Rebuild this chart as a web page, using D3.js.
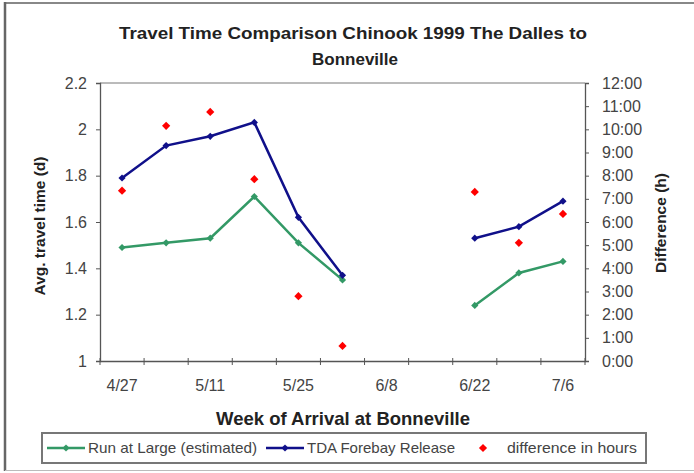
<!DOCTYPE html>
<html>
<head>
<meta charset="utf-8">
<script src="https://d3js.org/d3.v7.min.js"></script>
<style>body{margin:0;background:#fff}</style>
</head>
<body>
<svg width="694" height="473" font-family="Liberation Sans, Arial, sans-serif"></svg>
<script>

// weekly categories (arrival week at Bonneville)
var weeks = ["4/27", "5/4", "5/11", "5/18", "5/25", "6/1", "6/8", "6/15", "6/22", "6/29", "7/6"];

// avg travel time (days)
var runAtLarge = [1.49, 1.51, 1.53, 1.71, 1.51, 1.35, null, null, 1.24, 1.38, 1.43];
var tdaForebay = [1.79, 1.93, 1.97, 2.03, 1.62, 1.37, null, null, 1.53, 1.58, 1.69];

// difference in hours
var diffHours = [7.35, 10.15, 10.75, 7.85, 2.8, 0.65, null, null, 7.3, 5.1, 6.35];

var leftTicks = [1, 1.2, 1.4, 1.6, 1.8, 2, 2.2];
var rightTicks = [0, 1, 2, 3, 4, 5, 6, 7, 8, 9, 10, 11, 12];

var svg = d3.select("svg");

var green = "#339966", blue = "#10108a", red = "#ff0000";

// frame
svg.append("line").attr("x1", 5).attr("x2", 694).attr("y1", 3).attr("y2", 3)
    .attr("stroke", "#888").attr("stroke-width", 2);
svg.append("line").attr("x1", 5).attr("x2", 5).attr("y1", 2).attr("y2", 471)
    .attr("stroke", "#666").attr("stroke-width", 2.5);
svg.append("line").attr("x1", 5).attr("x2", 694).attr("y1", 470.5).attr("y2", 470.5)
    .attr("stroke", "#bbb").attr("stroke-width", 1);

var x = d3.scaleBand().domain(weeks).range([100, 585]);
var y = d3.scaleLinear().domain([1, 2.2]).range([361, 83]);
var y2 = d3.scaleLinear().domain([0, 12]).range([361, 83]);

function cx(i) { return x(weeks[i]) + x.bandwidth() / 2; }

// title
var title = svg.append("text")
    .attr("text-anchor", "middle")
    .attr("font-weight", "bold")
    .attr("font-size", 17)
    .attr("fill", "#222");
title.append("tspan").attr("x", 353).attr("y", 39)
    .attr("textLength", 468).attr("lengthAdjust", "spacingAndGlyphs")
    .text("Travel Time Comparison Chinook 1999 The Dalles to");
title.append("tspan").attr("x", 355).attr("y", 65).text("Bonneville");

// plot top border
svg.append("line").attr("x1", 100).attr("x2", 585).attr("y1", y(2.2)).attr("y2", y(2.2))
    .attr("stroke", "#777");

// axes
var gl = svg.append("g").attr("transform", "translate(100,0)")
    .call(d3.axisLeft(y).tickValues(leftTicks).tickSize(4).tickPadding(9)
      .tickFormat(function(d) { return String(+d.toFixed(1)); }));

var gr = svg.append("g").attr("transform", "translate(585,0)")
    .call(d3.axisRight(y2).tickValues(rightTicks).tickSize(4).tickPadding(13)
      .tickFormat(function(d) { return d + ":00"; }));

var gb = svg.append("g").attr("transform", "translate(0,361)")
    .call(d3.axisBottom(x).tickSize(0).tickPadding(19)
      .tickFormat(function(d, i) { return i % 2 == 0 ? d : ""; }));

// tick marks on category boundaries
var bounds = weeks.map(function(w) { return x(w); }).concat([x.range()[1]]);
gb.selectAll(".bound").data(bounds).enter().append("line")
    .attr("x1", function(d) { return d; }).attr("x2", function(d) { return d; })
    .attr("y1", -3).attr("y2", 4)
    .attr("stroke", "#555");

[gl, gr, gb].forEach(function(g) {
  g.select(".domain").attr("stroke", "#555").attr("stroke-width", 1.3);
  g.selectAll(".tick line").attr("stroke", "#555");
  g.selectAll("text").attr("font-size", 16).attr("fill", "#444")
      .attr("font-family", "Liberation Sans, Arial, sans-serif");
});

// axis titles
svg.append("text")
    .attr("transform", "translate(45,226) rotate(-90)")
    .attr("text-anchor", "middle").attr("font-weight", "bold").attr("font-size", 15.5).attr("fill", "#222")
    .text("Avg. travel time (d)");

svg.append("text")
    .attr("transform", "translate(666,223) rotate(-90)")
    .attr("text-anchor", "middle").attr("font-weight", "bold").attr("font-size", 15.5).attr("fill", "#222")
    .text("Difference (h)");

svg.append("text")
    .attr("x", 343).attr("y", 425)
    .attr("text-anchor", "middle").attr("font-weight", "bold").attr("font-size", 18.5).attr("fill", "#222")
    .text("Week of Arrival at Bonneville");

// series
var line = d3.line()
    .defined(function(d) { return d != null; })
    .x(function(d, i) { return cx(i); })
    .y(function(d) { return y(d); });

var diamond = d3.symbol().type(d3.symbolSquare);

function drawSeries(vals, color) {
  svg.append("path").datum(vals)
      .attr("d", line)
      .attr("fill", "none").attr("stroke", color).attr("stroke-width", 2.5);
  svg.selectAll(null).data(vals.map(function(v, i) { return {v: v, i: i}; })
      .filter(function(d) { return d.v != null; }))
    .enter().append("path")
      .attr("d", diamond.size(26))
      .attr("transform", function(d) { return "translate(" + cx(d.i) + "," + y(d.v) + ") rotate(45)"; })
      .attr("fill", color);
}

drawSeries(runAtLarge, green);
drawSeries(tdaForebay, blue);

svg.selectAll(null).data(diffHours.map(function(v, i) { return {v: v, i: i}; })
    .filter(function(d) { return d.v != null; }))
  .enter().append("path")
    .attr("d", d3.symbol().type(d3.symbolSquare).size(34))
    .attr("transform", function(d) { return "translate(" + cx(d.i) + "," + y2(d.v) + ") rotate(45)"; })
    .attr("fill", red);

// legend
var lg = svg.append("g");
lg.append("rect").attr("x", 42).attr("y", 433).attr("width", 604).attr("height", 30)
    .attr("fill", "#fff").attr("stroke", "#777").attr("stroke-width", 2);

var ly = 448;
var items = [
  {label: "Run at Large (estimated)", color: green, x0: 47, x1: 85, tx: 88, kind: "line", w: 169},
  {label: "TDA Forebay Release", color: blue, x0: 266, x1: 304, tx: 307, kind: "line", w: 148},
  {label: "difference in hours", color: red, x0: 483, x1: 483, tx: 507, kind: "dot", w: 130}
];
items.forEach(function(it) {
  if (it.kind == "line") {
    lg.append("line").attr("x1", it.x0).attr("x2", it.x1).attr("y1", ly).attr("y2", ly)
        .attr("stroke", it.color).attr("stroke-width", 2.5);
  }
  lg.append("path")
      .attr("d", d3.symbol().type(d3.symbolSquare).size(it.kind == "dot" ? 34 : 26))
      .attr("transform", "translate(" + ((it.x0 + it.x1) / 2) + "," + ly + ") rotate(45)")
      .attr("fill", it.color);
  lg.append("text").attr("x", it.tx).attr("y", ly + 5)
      .attr("font-size", 14.5).attr("fill", "#444")
      .attr("textLength", it.w).attr("lengthAdjust", "spacingAndGlyphs")
      .text(it.label);
});

</script>
</body>
</html>
